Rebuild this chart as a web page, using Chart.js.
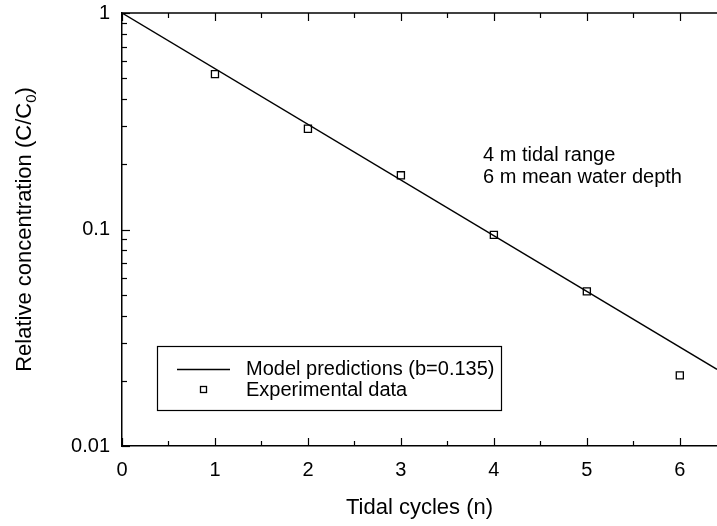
<!DOCTYPE html>
<html>
<head>
<meta charset="utf-8">
<script src="https://cdn.jsdelivr.net/npm/chart.js@4/dist/chart.umd.min.js"></script>
<style>
html,body{margin:0;padding:0;background:#fff;}
#wrap{width:717px;height:526px;}
</style>
</head>
<body>
<div id="wrap"><canvas id="c" width="717" height="526"></canvas></div>
<script>
// ---- data ----
const cycles = [1, 2, 3, 4, 5, 6];
const experimental = [0.522, 0.292, 0.178, 0.0945, 0.0518, 0.0212];
const modelX = [0, 6.4];
const modelY = [1, 0.0226];
const xTickValues = [0, 1, 2, 3, 4, 5, 6];
const xMinorTicks = [0.5, 1.5, 2.5, 3.5, 4.5, 5.5];
const yTickValues = [0.01, 0.1, 1];
const yTickLabels = ['0.01', '0.1', '1'];
const seriesLabels = ['Model predictions (b=0.135)', 'Experimental data'];
const noteLines = ['4 m tidal range', '6 m mean water depth'];
const xTitle = 'Tidal cycles (n)';
const yTitleMain = 'Relative concentration (C/C';
const yTitleSub = '0';
const yTitleEnd = ')';

const FONT = '"Liberation Sans", Arial, sans-serif';

const decorPlugin = {
  id: 'decor',
  afterDraw(chart) {
    const ctx = chart.ctx;
    const xs = chart.scales.x, ys = chart.scales.y;
    const a = chart.chartArea;
    ctx.save();
    ctx.strokeStyle = '#000';
    ctx.lineWidth = 1.5;
    // top border
    ctx.beginPath();
    ctx.moveTo(a.left, a.top);
    ctx.lineTo(a.right, a.top);
    ctx.stroke();
    ctx.lineWidth = 1.2;
    // x ticks inward (bottom and top)
    const drawX = (v, len) => {
      const px = Math.round(xs.getPixelForValue(v)) + 0.5;
      ctx.beginPath();
      ctx.moveTo(px, a.bottom); ctx.lineTo(px, a.bottom - len);
      ctx.moveTo(px, a.top); ctx.lineTo(px, a.top + len);
      ctx.stroke();
    };
    xTickValues.forEach(v => drawX(v, 8));
    xMinorTicks.forEach(v => drawX(v, 5));
    // y ticks inward on left
    const drawY = (v, len) => {
      const py = Math.round(ys.getPixelForValue(v)) + 0.5;
      ctx.beginPath();
      ctx.moveTo(a.left, py); ctx.lineTo(a.left + len, py);
      ctx.stroke();
    };
    yTickValues.forEach(v => drawY(v, 8));
    [0.01, 0.1].forEach(d => {
      for (let m = 2; m <= 9; m++) drawY(d * m, 5);
    });

    // y-axis title with subscript
    ctx.fillStyle = '#000';
    ctx.save();
    ctx.translate(25, (a.top + a.bottom) / 2);
    ctx.rotate(-Math.PI / 2);
    ctx.textBaseline = 'middle';
    ctx.textAlign = 'left';
    const fMain = '22px ' + FONT, fSub = '15px ' + FONT;
    ctx.font = fMain;
    const w1 = ctx.measureText(yTitleMain).width;
    const w3 = ctx.measureText(yTitleEnd).width;
    ctx.font = fSub;
    const w2 = ctx.measureText(yTitleSub).width;
    let x0 = -(w1 + w2 + w3) / 2;
    ctx.font = fMain;
    ctx.fillText(yTitleMain, x0, 0);
    ctx.font = fSub;
    ctx.fillText(yTitleSub, x0 + w1, 7);
    ctx.font = fMain;
    ctx.fillText(yTitleEnd, x0 + w1 + w2, 0);
    ctx.restore();

    // annotation text
    ctx.font = '20px ' + FONT;
    ctx.textAlign = 'left';
    ctx.textBaseline = 'middle';
    ctx.fillText(noteLines[0], 483, 155);
    ctx.fillText(noteLines[1], 483, 177);

    // legend box
    ctx.lineWidth = 1.2;
    ctx.strokeRect(157.5, 346.5, 344, 64);
    ctx.lineWidth = 1.3;
    ctx.beginPath();
    ctx.moveTo(177, 369.5); ctx.lineTo(230, 369.5);
    ctx.stroke();
    ctx.fillStyle = '#fff';
    ctx.fillRect(200, 386, 6, 6);
    ctx.strokeRect(200.5, 386.5, 6, 6);
    ctx.fillStyle = '#000';
    ctx.fillText(chart.data.datasets[0].label, 246, 369);
    ctx.fillText(chart.data.datasets[1].label, 246, 390);
    ctx.restore();
  }
};

new Chart(document.getElementById('c'), {
  type: 'scatter',
  data: {
    datasets: [
      {
        label: seriesLabels[0],
        type: 'line',
        data: modelX.map((x, i) => ({x, y: modelY[i]})),
        borderColor: '#000',
        borderWidth: 1.4,
        pointRadius: 0,
        fill: false,
        tension: 0
      },
      {
        label: seriesLabels[1],
        data: cycles.map((x, i) => ({x, y: experimental[i]})),
        pointStyle: 'rect',
        pointRadius: 5,
        pointBackgroundColor: '#fff',
        pointBorderColor: '#000',
        pointBorderWidth: 1.3,
        showLine: false
      }
    ]
  },
  options: {
    responsive: false,
    animation: false,
    devicePixelRatio: 1,
    layout: { autoPadding: false, padding: { top: 13, right: 0, left: 0, bottom: 0 } },
    plugins: { legend: { display: false }, tooltip: { enabled: false } },
    scales: {
      x: {
        type: 'linear',
        min: 0, max: 6.4,
        afterBuildTicks: s => { s.ticks = xTickValues.map(v => ({value: v})); },
        afterFit: s => { s.height = 80; s.paddingLeft = 0; s.paddingRight = 0; },
        grid: { display: false, drawTicks: false },
        border: { display: true, color: '#000', width: 1.5 },
        ticks: {
          autoSkip: false, maxRotation: 0,
          padding: 12,
          color: '#000',
          font: { family: FONT, size: 20 },
          callback: v => String(v)
        },
        title: {
          display: true, text: xTitle, color: '#000',
          font: { family: FONT, size: 22 },
          padding: { top: 0, bottom: 5 }
        }
      },
      y: {
        type: 'logarithmic',
        min: 0.01, max: 1,
        afterBuildTicks: s => { s.ticks = yTickValues.map(v => ({value: v})); },
        afterFit: s => { s.width = 122; s.paddingTop = 0; s.paddingBottom = 0; },
        grid: { display: false, drawTicks: false },
        border: { display: true, color: '#000', width: 1.5 },
        ticks: {
          autoSkip: false,
          padding: 12,
          color: '#000',
          font: { family: FONT, size: 20 },
          callback: (v) => { const i = yTickValues.indexOf(v); return i >= 0 ? yTickLabels[i] : ''; }
        }
      }
    }
  },
  plugins: [decorPlugin]
});
</script>
</body>
</html>
